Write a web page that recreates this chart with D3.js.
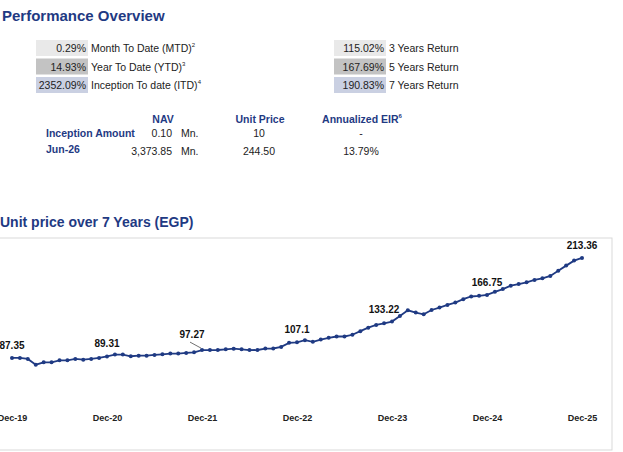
<!DOCTYPE html>
<html>
<head>
<meta charset="utf-8">
<script src="https://cdn.jsdelivr.net/npm/d3@7"></script>
<style>
  body { margin: 0; background: #fff; font-family: "Liberation Sans", Arial, sans-serif; }
</style>
</head>
<body>
<svg id="chart" width="623" height="452"></svg>
<script>
// summary tables
var leftLabels = ['Month To Date (MTD)', 'Year To Date (YTD)', 'Inception To date (ITD)'];
var leftSup = ['2', '3', '4'];
var leftValues = ['0.29%', '14.93%', '2352.09%'];
var rightLabels = ['3 Years Return', '5 Years Return', '7 Years Return'];
var rightValues = ['115.02%', '167.69%', '190.83%'];
var boxColors = ['#e9e9e9', '#c3c3c3', '#cad0e2'];

var navRows = ['Inception Amount', 'Jun-26'];
var navValues = ['0.10', '3,373.85'];
var unitPrices = ['10', '244.50'];
var eirValues = ['-', '13.79%'];

// monthly unit price, Dec-19 .. Dec-25
var prices = [87.35, 87.4, 86.1, 78.9, 81.9, 81.9, 84.4, 84.4, 86.1, 85.2, 86.1, 87.4,
  89.31, 91.6, 91.6, 89.5, 90.3, 90.3, 91.2, 92.0, 92.9, 92.9, 93.7, 94.5,
  97.27, 97.3, 97.4, 98.2, 99.0, 98.2, 97.3, 97.4, 99.2, 99.3, 101.3, 106.4,
  107.1, 109.8, 107.7, 110.6, 112.7, 114.4, 114.4, 116.6, 121.1, 125.5, 129.0, 131.0,
  133.22, 140.3, 147.4, 144.5, 142.3, 147.8, 150.8, 154.2, 157.2, 161.4, 164.8, 165.6,
  166.75, 170.7, 174.2, 178.4, 180.5, 182.7, 185.6, 187.7, 190.7, 197.3, 203.7, 210.0,
  213.36];
var tickLabels = ['Dec-19', 'Dec-20', 'Dec-21', 'Dec-22', 'Dec-23', 'Dec-24', 'Dec-25'];

var navy = '#1f3a83';
var svg = d3.select('#chart');

svg.append('text').attr('x', 2).attr('y', 21).attr('fill', navy)
  .attr('font-size', 15).attr('font-weight', 'bold').text('Performance Overview');

function boxRow(x, values, labels, sups) {
  values.forEach(function (v, i) {
    var y = 40 + i * 18.5;
    svg.append('rect').attr('x', x).attr('y', y).attr('width', 52).attr('height', 16)
      .attr('fill', boxColors[i]);
    svg.append('text').attr('x', x + 50).attr('y', y + 12).attr('text-anchor', 'end')
      .attr('font-size', 10.5).attr('fill', '#222').text(v);
    var t = svg.append('text').attr('x', x + 55).attr('y', y + 12)
      .attr('font-size', 10.5).attr('fill', '#222').text(labels[i]);
    if (sups) t.append('tspan').attr('dy', -5).attr('font-size', 6).text(sups[i]);
  });
}
boxRow(36, leftValues, leftLabels, leftSup);
boxRow(334, rightValues, rightLabels, null);

// NAV table
var hdr = [['NAV', 163], ['Unit Price', 260], ['Annualized EIR', 362]];
hdr.forEach(function (h, i) {
  var t = svg.append('text').attr('x', h[1]).attr('y', 123).attr('text-anchor', 'middle')
    .attr('font-size', 10.5).attr('font-weight', 'bold').attr('fill', navy).text(h[0]);
  if (i === 2) t.append('tspan').attr('dy', -5).attr('font-size', 6).text('6');
});
navRows.forEach(function (r, i) {
  var y = 137 + i * 18;
  svg.append('text').attr('x', 46).attr('y', y - (i ? 2 : 0)).attr('font-size', 10.5)
    .attr('font-weight', 'bold').attr('fill', navy).text(r);
  svg.append('text').attr('x', 172).attr('y', y).attr('text-anchor', 'end')
    .attr('font-size', 10.5).attr('fill', '#222').text(navValues[i]);
  svg.append('text').attr('x', 181).attr('y', y).attr('font-size', 10.5).attr('fill', '#222').text('Mn.');
  svg.append('text').attr('x', 259).attr('y', y).attr('text-anchor', 'middle')
    .attr('font-size', 10.5).attr('fill', '#222').text(unitPrices[i]);
  svg.append('text').attr('x', 361).attr('y', y).attr('text-anchor', 'middle')
    .attr('font-size', 10.5).attr('fill', '#222').text(eirValues[i]);
});

// line chart
svg.append('text').attr('x', 0).attr('y', 227).attr('fill', navy)
  .attr('font-size', 14).attr('font-weight', 'bold').text('Unit price over 7 Years (EGP)');
svg.append('rect').attr('x', -1).attr('y', 238).attr('width', 613).attr('height', 212)
  .attr('fill', 'none').attr('stroke', '#d9d9d9');

var x = d3.scaleLinear().domain([0, prices.length - 1]).range([12, 582]);
var y = d3.scaleLinear().domain([47, 238.5]).range([390, 238]);

svg.append('path').datum(prices)
  .attr('d', d3.line().x(function (d, i) { return x(i); }).y(function (d) { return y(d); }))
  .attr('fill', 'none').attr('stroke', navy).attr('stroke-width', 1.8);
svg.selectAll('circle.pt').data(prices).enter().append('circle')
  .attr('cx', function (d, i) { return x(i); }).attr('cy', function (d) { return y(d); })
  .attr('r', 2).attr('fill', navy);

var xAxis = d3.axisBottom(x).tickValues(d3.range(0, 73, 12))
  .tickFormat(function (d) { return tickLabels[d / 12]; }).tickSize(0);
var ax = svg.append('g').attr('transform', 'translate(0,412)').call(xAxis);
ax.select('.domain').remove();
ax.selectAll('text').attr('font-size', 9).attr('font-weight', 'bold').attr('fill', '#222')
  .attr('font-family', '"Liberation Sans", Arial, sans-serif');

var labelIdx = d3.range(0, 73, 12);
var labelDx = [0, 0, -10, 0, -8, 0, 0];
svg.selectAll('text.lbl').data(labelIdx).enter().append('text')
  .attr('x', function (d, i) { return x(d) + labelDx[i]; })
  .attr('y', function (d, i) { return y(prices[d]) - (i === 2 ? 12 : 9); })
  .attr('text-anchor', 'middle').attr('font-size', 10).attr('font-weight', 'bold')
  .attr('fill', '#111').text(function (d) { return String(prices[d]); });
svg.append('line').attr('x1', x(24) - 12).attr('y1', y(prices[24]) - 8)
  .attr('x2', x(24) - 1).attr('y2', y(prices[24]) - 2).attr('stroke', '#333').attr('stroke-width', 0.7);
</script>
</body>
</html>
